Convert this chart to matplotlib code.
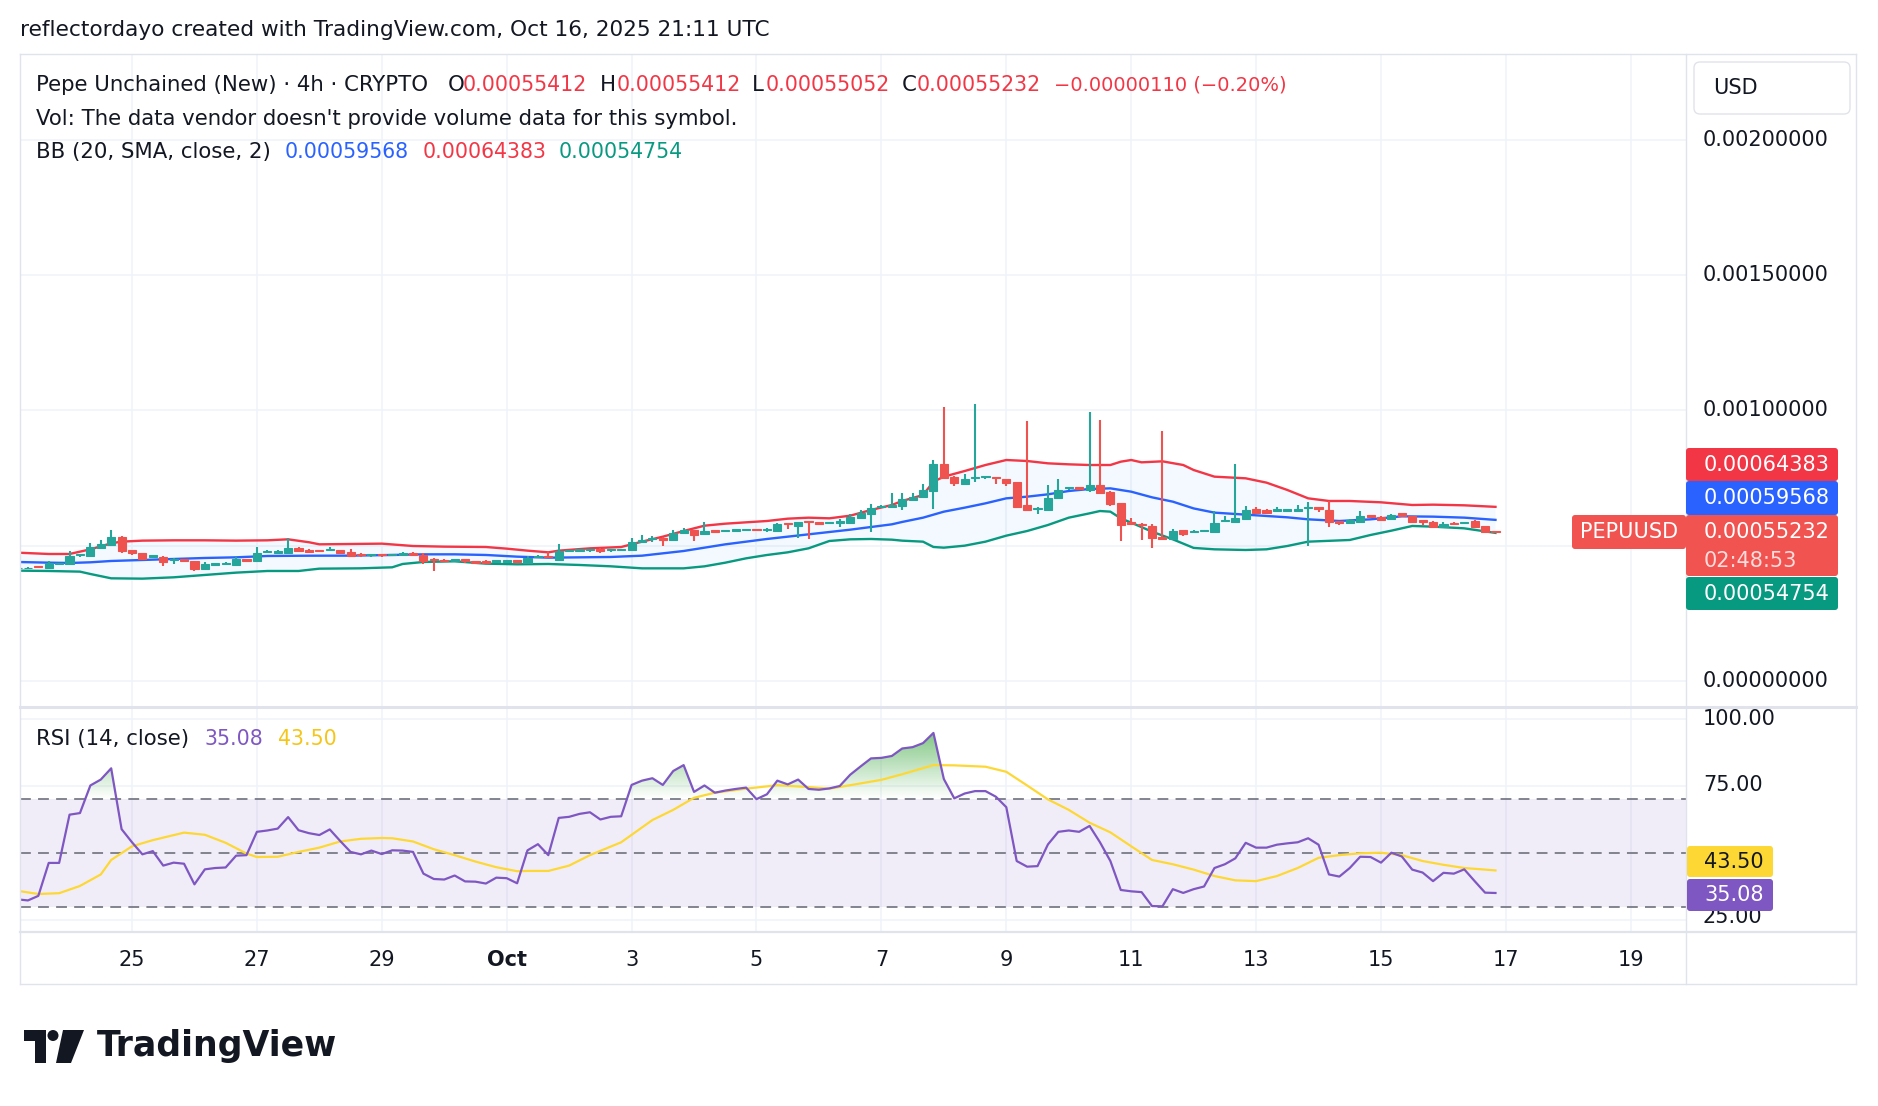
import numpy as np
import pandas as pd
import matplotlib
matplotlib.use("Agg")
import matplotlib.pyplot as plt
import matplotlib.dates as mdates
from matplotlib.patches import FancyBboxPatch, Polygon, Circle, PathPatch
from matplotlib.path import Path
from matplotlib.lines import Line2D
from matplotlib.transforms import IdentityTransform

# ---------------- DATA ----------------
# 4h candles, prices in micro-USD (x 1e-6)
PRICE_UNIT = 1e-6
start_time = "2025-09-23 04:00"
n_candles = 143

opens = [416.6, 417.5, 424.0, 416.6, 433.8, 431.4, 464.6, 463.4, 493.0, 504.1,
         533.6, 484.4, 473.3, 459.7, 459.7, 448.6, 451.1, 443.7, 415.3, 430.1,
         432.6, 430.1, 451.1, 444.9, 475.7, 474.5, 474.5, 493.0, 485.6, 483.1,
         483.1, 483.1, 477.0, 470.8, 464.6, 469.6, 465.9, 467.1, 472.0, 465.9,
         451.1, 448.6, 444.9, 451.1, 443.7, 444.9, 441.2, 441.2, 446.2, 437.5,
         457.2, 463.4, 448.6, 479.4, 481.9, 484.4, 489.3, 483.0, 484.3, 483.0,
         513.8, 523.7, 529.9, 520.0, 545.9, 558.2, 542.2, 558.2, 554.5, 554.5,
         557.0, 561.9, 557.0, 555.7, 584.1, 574.2, 591.5, 586.6, 582.9, 584.1,
         585.3, 601.4, 618.6, 643.2, 644.5, 647.0, 669.1, 679.0, 703.6, 802.2,
         755.4, 727.0, 749.2, 752.9, 754.1, 745.5, 734.4, 649.4, 634.6, 633.4,
         676.5, 712.2, 717.2, 707.3, 724.6, 699.9, 658.0, 589.0, 581.6, 574.2,
         532.3, 526.2, 558.2, 549.6, 553.3, 552.1, 591.5, 589.1, 600.2, 634.7,
         631.0, 627.3, 628.5, 629.8, 638.4, 643.3, 632.2, 590.3, 582.9, 589.1,
         612.5, 607.6, 597.7, 619.9, 610.0, 595.2, 589.1, 570.6, 585.4, 582.9,
         590.3, 571.8, 554.12]
highs = [419.5, 420.0, 425.0, 443.7, 438.0, 480.7, 471.0, 511.5, 521.3, 558.3,
         536.1, 486.0, 474.0, 466.0, 462.2, 454.8, 452.0, 445.0, 440.0, 437.0,
         441.2, 459.7, 452.0, 495.4, 484.4, 484.4, 529.9, 495.4, 488.1, 484.0,
         495.4, 484.0, 488.1, 474.5, 470.5, 470.5, 470.5, 475.7, 477.0, 472.0,
         456.0, 452.3, 452.0, 452.0, 444.5, 445.5, 447.0, 447.0, 447.0, 460.9,
         464.5, 475.7, 506.5, 485.5, 489.0, 489.0, 490.0, 487.5, 489.0, 527.4,
         539.7, 537.3, 531.0, 557.0, 566.8, 559.0, 587.8, 559.0, 560.0, 561.5,
         562.5, 562.5, 566.8, 585.3, 585.0, 588.5, 592.5, 587.5, 587.5, 597.7,
         616.1, 632.2, 654.3, 650.6, 693.8, 693.8, 693.8, 727.0, 817.0, 1012.9,
         756.5, 764.0, 1024.0, 759.0, 755.0, 746.5, 736.0, 961.2, 643.2, 724.6,
         746.8, 718.0, 718.0, 994.5, 964.9, 701.0, 659.0, 601.4, 582.5, 580.4,
         924.2, 561.9, 559.0, 557.0, 559.0, 628.5, 610.0, 802.3, 645.8, 643.3,
         635.9, 643.3, 637.0, 649.5, 661.8, 644.5, 664.3, 591.5, 598.9, 628.5,
         613.5, 608.5, 617.4, 621.0, 611.0, 596.5, 590.0, 587.9, 586.5, 589.0,
         594.0, 573.0, 554.12]
lows = [415.5, 416.0, 419.0, 415.0, 432.0, 430.0, 459.7, 462.0, 491.0, 503.0,
        474.5, 467.1, 448.6, 458.0, 426.4, 433.8, 441.2, 408.0, 414.0, 427.7,
        431.0, 429.0, 444.0, 443.0, 474.5, 470.8, 473.0, 478.2, 474.5, 478.0,
        482.0, 470.8, 462.0, 459.7, 457.2, 459.7, 465.0, 466.0, 462.2, 431.4,
        408.0, 440.0, 444.0, 436.3, 436.5, 435.1, 440.0, 440.0, 437.5, 436.5,
        453.5, 456.0, 447.0, 478.0, 479.4, 475.7, 474.5, 478.1, 483.0, 482.0,
        512.5, 515.1, 500.3, 518.5, 545.0, 518.8, 541.0, 551.0, 553.5, 549.6,
        556.0, 556.0, 552.0, 554.5, 563.2, 527.4, 524.9, 580.5, 582.0, 570.5,
        584.0, 600.0, 552.1, 642.0, 643.5, 633.4, 668.0, 678.0, 634.6, 749.2,
        722.1, 726.0, 736.9, 745.5, 729.5, 722.1, 640.8, 632.0, 616.1, 632.0,
        671.6, 706.1, 706.1, 699.9, 695.0, 646.9, 518.8, 580.4, 522.5, 492.9,
        525.0, 525.0, 537.3, 548.4, 549.7, 551.0, 586.6, 588.0, 599.0, 621.0,
        621.0, 626.0, 627.5, 628.5, 500.4, 626.1, 568.1, 578.0, 581.5, 588.0,
        604.0, 592.8, 596.5, 607.6, 582.9, 576.8, 569.5, 569.5, 578.0, 579.2,
        567.0, 548.5, 550.52]
closes = [418.5, 419.5, 420.3, 435.1, 436.3, 463.4, 469.6, 494.2, 506.5, 532.4,
          481.9, 472.0, 451.1, 464.6, 440.0, 452.3, 444.9, 415.3, 432.6, 436.3,
          437.5, 449.9, 444.9, 474.5, 481.9, 480.7, 493.0, 481.9, 478.2, 479.4,
          486.8, 474.5, 463.4, 464.6, 469.6, 464.6, 469.6, 472.0, 465.9, 443.7,
          446.2, 442.5, 451.1, 443.7, 437.5, 437.5, 446.2, 446.2, 440.0, 456.0,
          463.4, 457.2, 481.9, 484.4, 488.1, 488.1, 481.9, 486.7, 488.0, 515.1,
          522.5, 529.9, 522.5, 545.9, 558.2, 539.7, 554.5, 552.0, 559.4, 560.7,
          561.9, 557.0, 561.9, 581.6, 579.2, 587.8, 586.6, 581.6, 586.6, 590.3,
          605.0, 622.3, 639.5, 648.2, 650.6, 672.8, 681.4, 706.1, 802.2, 751.7,
          730.7, 745.5, 755.4, 757.8, 749.2, 730.7, 644.5, 633.4, 640.8, 676.5,
          707.3, 717.2, 709.8, 724.6, 696.2, 653.1, 577.9, 581.6, 576.7, 527.4,
          526.2, 553.3, 542.2, 554.5, 558.3, 582.9, 596.5, 603.9, 632.2, 622.4,
          622.4, 634.7, 635.9, 637.1, 643.3, 635.9, 586.6, 582.9, 595.2, 610.0,
          605.1, 595.2, 615.0, 611.3, 589.1, 589.1, 570.6, 580.5, 579.2, 587.9,
          568.1, 549.7, 552.32]

# Bollinger bands (at sample candles), micro-USD
bb_up_idx = [0, 3, 5, 7, 9, 10, 12, 15, 18, 21, 24, 26, 28, 29, 32, 35, 38, 41, 45, 47,
             49, 51, 52, 55, 58, 60, 62, 64, 66, 68, 70, 72, 74, 76, 78, 80, 82, 84, 85, 87,
             88, 89, 91, 93, 95, 97, 99, 101, 103, 105, 106, 107, 108, 110, 112, 113, 115, 118, 120, 122,
             124, 126, 128, 131, 134, 136, 139, 142]
bb_up = [474.5, 469.6, 469.6, 486.8, 509.0, 515.2, 518.9, 520.1, 520.1, 518.9, 520.1, 523.8, 513.0, 505.3, 506.5, 507.8, 499.1, 496.7, 495.4, 489.3,
         481.9, 475.7, 481.9, 490.5, 495.4, 515.1, 533.6, 554.5, 574.2, 581.6, 586.6, 591.5, 600.1, 603.8, 601.4, 611.2, 632.2, 650.6, 665.4, 687.6,
         736.9, 755.4, 776.3, 798.5, 817.0, 813.3, 804.7, 801.0, 798.5, 798.5, 810.8, 817.0, 808.4, 812.1, 798.5, 780.0, 755.4, 749.3, 733.3, 706.2,
         675.3, 665.5, 665.5, 660.6, 650.7, 651.9, 649.5, 643.83]
bb_mid_idx = [0, 3, 5, 7, 9, 12, 15, 18, 21, 24, 28, 32, 36, 39, 42, 45, 48, 51, 54, 57,
              60, 64, 68, 72, 76, 80, 84, 85, 87, 89, 91, 93, 95, 97, 99, 101, 103, 105, 107, 109,
              111, 113, 115, 118, 122, 124, 127, 130, 133, 136, 139, 142]
bb_mid = [440.0, 437.5, 436.3, 438.8, 443.7, 447.4, 451.1, 454.8, 457.2, 462.2, 463.2, 463.4, 465.9, 468.3, 468.3, 465.9, 459.7, 456.0, 457.2, 458.5,
          463.3, 480.6, 505.2, 525.0, 542.2, 559.4, 579.2, 588.0, 603.8, 626.0, 640.8, 656.8, 675.3, 681.4, 690.1, 702.4, 709.8, 712.2, 699.9, 679.0,
          663.0, 638.0, 622.4, 615.0, 605.1, 597.7, 591.5, 597.7, 608.8, 607.6, 603.9, 595.68]
bb_low_idx = [0, 3, 6, 7, 9, 12, 15, 18, 21, 24, 27, 28, 29, 33, 36, 37, 39, 42, 45, 48,
              51, 54, 57, 60, 64, 66, 68, 70, 72, 74, 76, 78, 80, 82, 84, 85, 87, 88, 89, 91,
              93, 95, 97, 99, 101, 103, 104, 105, 106, 107, 109, 111, 113, 115, 118, 120, 122, 124, 128, 130,
              132, 134, 136, 139, 142]
bb_low = [408.0, 406.7, 404.3, 395.6, 379.6, 378.4, 383.3, 392.0, 400.6, 406.7, 406.7, 411.0, 415.3, 416.6, 420.3, 432.6, 440.0, 442.5, 433.8, 431.4,
          432.6, 428.9, 424.0, 416.5, 416.5, 423.9, 437.4, 453.5, 465.8, 475.7, 490.5, 517.6, 523.7, 525.0, 522.5, 518.8, 515.1, 495.4, 492.9, 500.3,
          515.1, 537.3, 554.5, 576.7, 603.8, 619.8, 628.4, 626.0, 601.4, 585.3, 552.1, 523.7, 492.0, 486.8, 484.3, 486.8, 499.1, 515.1, 521.3, 539.8,
          555.8, 573.1, 570.6, 564.4, 547.54]

# RSI (14) per candle
rsi = [32.7, 32.3, 34.0, 46.3, 46.3, 64.3, 64.9, 75.2, 77.4, 81.6,
       58.9, 54.0, 49.5, 50.7, 45.3, 46.4, 46.0, 38.3, 43.9, 44.4,
       44.6, 49.0, 49.2, 57.9, 58.4, 59.1, 63.4, 58.5, 57.4, 56.7,
       58.8, 54.5, 50.4, 49.5, 50.9, 49.6, 51.0, 50.9, 50.4, 42.3,
       40.3, 40.1, 41.6, 39.4, 39.3, 38.6, 40.8, 40.6, 38.7, 51.0,
       53.3, 49.2, 63.1, 63.5, 64.6, 65.2, 62.5, 63.5, 63.7, 75.4,
       77.0, 77.9, 75.4, 80.6, 82.8, 72.8, 75.2, 72.5, 73.3, 73.9,
       74.4, 70.1, 71.9, 77.0, 75.6, 77.4, 73.9, 73.6, 74.1, 75.0,
       79.2, 82.3, 85.3, 85.5, 86.2, 89.0, 89.5, 91.0, 94.8, 77.6,
       70.4, 72.2, 73.1, 73.1, 71.0, 67.1, 47.0, 44.9, 45.1, 53.2,
       57.9, 58.4, 57.9, 60.1, 54.0, 47.0, 36.2, 35.7, 35.4, 30.2,
       30.1, 36.5, 35.1, 36.5, 37.5, 44.4, 45.8, 48.0, 53.8, 52.0,
       52.0, 53.1, 53.6, 54.0, 55.5, 53.1, 42.0, 41.2, 44.4, 48.6,
       48.5, 46.4, 50.1, 48.7, 43.8, 42.7, 39.5, 42.6, 42.3, 43.9,
       39.5, 35.2, 35.08]
# RSI-based MA (read at sample candles)
rsi_ma_idx = [0, 2, 4, 6, 8, 9, 11, 13, 16, 18, 20, 22, 23, 25, 27, 29, 31, 33, 35, 36,
              38, 40, 42, 44, 46, 48, 49, 51, 53, 55, 58, 61, 63, 65, 67, 70, 73, 76, 78, 80,
              83, 85, 88, 90, 93, 95, 97, 99, 101, 103, 105, 107, 109, 111, 113, 115, 117, 119, 121, 123,
              125, 127, 129, 131, 133, 135, 137, 139, 142]
rsi_ma = [35.9, 34.7, 35.0, 37.7, 42.0, 47.4, 52.5, 54.8, 57.6, 56.8, 53.8, 49.8, 48.5, 48.6, 50.4, 52.0, 54.3, 55.3, 55.6, 55.5,
          54.3, 51.4, 49.2, 46.8, 44.7, 43.2, 43.3, 43.3, 45.3, 49.2, 54.0, 62.3, 66.1, 70.6, 72.5, 74.0, 75.3, 74.6, 74.0, 75.3,
          77.3, 79.4, 82.8, 82.7, 82.2, 80.3, 75.2, 70.0, 66.1, 61.3, 57.7, 52.5, 47.4, 45.8, 43.8, 41.4, 39.8, 39.5, 41.4, 44.4,
          48.2, 49.2, 49.9, 50.1, 49.2, 47.0, 45.6, 44.4, 43.5]

tick_dates = ["2025-09-25", "2025-09-27", "2025-09-29", "2025-10-01", "2025-10-03", "2025-10-05",
              "2025-10-07", "2025-10-09", "2025-10-11", "2025-10-13", "2025-10-15", "2025-10-17",
              "2025-10-19"]
tick_labels = ["25", "27", "29", "Oct", "3", "5", "7", "9", "11", "13", "15", "17", "19"]
price_ticks = [0.0, 0.0005, 0.0010, 0.0015, 0.0020]
price_tick_labels = ["0.00000000", "", "0.00100000", "0.00150000", "0.00200000"]
rsi_ticks = [25, 75, 100]
rsi_tick_labels = ["25.00", "75.00", "100.00"]
countdown = "02:48:53"
change_text = "\u22120.00000110 (\u22120.20%)"

# ---------------- COLORS ----------------
UP = "#26A69A"
DOWN = "#EF5350"
BB_UP_C = "#F23645"
BB_MID_C = "#2962FF"
BB_LOW_C = "#089981"
RSI_C = "#7E57C2"
MA_C = "#FDD835"
GRID = "#F0F3FA"
BORDER = "#E0E3EB"
TXT = "#131722"

FS_LEG = 15.3    # words in legends
FS_NUM = 14.8    # numbers in legends
FS_AX = 15.0     # axis labels / tags

# ---------------- FIGURE ----------------
W, H = 1878, 1106
fig = plt.figure(figsize=(W / 100, H / 100), dpi=100)
fig.patch.set_facecolor("white")
plt.rcParams['font.family'] = ['DejaVu Sans']


def axrect(x0, y0, x1, y1):
    return [x0 / W, 1 - y1 / H, (x1 - x0) / W, (y1 - y0) / H]


ax_p = fig.add_axes(axrect(20, 54, 1686, 707))
ax_r = fig.add_axes(axrect(20, 707, 1686, 932), sharex=ax_p)
ax_ps = fig.add_axes(axrect(1686, 54, 1856, 707), sharey=ax_p)
ax_rs = fig.add_axes(axrect(1686, 707, 1856, 929), sharey=ax_r)

t = pd.date_range(start_time, periods=n_candles, freq="4h")
x = mdates.date2num(t)
O = np.array(opens) * PRICE_UNIT
Hh = np.array(highs) * PRICE_UNIT
L = np.array(lows) * PRICE_UNIT
C = np.array(closes) * PRICE_UNIT
R = np.array(rsi)

x_ref = mdates.date2num(pd.Timestamp("2025-09-25"))
xlim = (x_ref - 1.7934, x_ref + 24.884)

# ---- price pane ----
for ax in (ax_p, ax_r):
    ax.set_facecolor("white")
    for s in ax.spines.values():
        s.set_visible(False)
    ax.tick_params(length=0, labelleft=False, labelright=False)

ax_p.set_yticks(price_ticks)
ax_p.grid(True, color=GRID, lw=1.2, zorder=0)
ax_p.set_axisbelow(True)
ax_p.tick_params(labelbottom=False)

ux = x[np.array(bb_up_idx)]
lx = x[np.array(bb_low_idx)]
mx = x[np.array(bb_mid_idx)]
up = np.array(bb_up) * PRICE_UNIT
lo = np.array(bb_low) * PRICE_UNIT
md = np.array(bb_mid) * PRICE_UNIT
ax_p.fill(np.concatenate([ux, lx[::-1]]), np.concatenate([up, lo[::-1]]),
          color="#2196F3", alpha=0.05, lw=0, zorder=1)
ax_p.plot(ux, up, color=BB_UP_C, lw=1.7, zorder=2)
ax_p.plot(mx, md, color=BB_MID_C, lw=1.7, zorder=2)
ax_p.plot(lx, lo, color=BB_LOW_C, lw=1.7, zorder=2)

cols = np.where(C >= O, UP, DOWN)
ax_p.vlines(x, L, Hh, colors=cols, lw=1.5, zorder=3)
ax_p.bar(x, np.abs(C - O), bottom=np.minimum(O, C), width=0.78 / 6,
         color=cols, edgecolor=cols, linewidth=0.8, zorder=4)

ax_p.set_xlim(*xlim)
ax_p.set_ylim(-0.0000961, 0.0023179)

# ---- RSI pane ----
ax_r.set_yticks(rsi_ticks)
ax_r.set_xticks(mdates.date2num(pd.to_datetime(tick_dates)))
ax_r.set_xticklabels(tick_labels, fontsize=FS_AX, color=TXT)
for lab in ax_r.get_xticklabels():
    if lab.get_text() == "Oct":
        lab.set_fontweight("bold")
ax_r.tick_params(axis="x", pad=13, length=0)
ax_r.grid(True, color=GRID, lw=1.2, zorder=0)
ax_r.set_axisbelow(True)

ax_r.axhspan(30, 70, color=RSI_C, alpha=0.1, lw=0, zorder=1)


# gradient fill above 70 / below 30
def grad_fill(ax, xv, yv, level, top, cond, rgb, amax):
    coll = ax.fill_between(xv, level, yv, where=cond, interpolate=True,
                           facecolor="none", edgecolor="none", lw=0)
    paths = coll.get_paths()
    if not paths:
        return
    comp = Path.make_compound_path(*paths)
    patch = PathPatch(comp, transform=ax.transData, fc="none", ec="none")
    ax.add_patch(patch)
    g = np.zeros((256, 1, 4))
    g[..., 0], g[..., 1], g[..., 2] = rgb
    g[..., 3] = np.linspace(0, amax, 256)[:, None]
    lo_, hi_ = (level, top) if top > level else (top, level)
    if top < level:
        g = g[::-1]
    im = ax.imshow(g, extent=[xv[0], xv[-1], lo_, hi_], origin="lower",
                   aspect="auto", zorder=1.5, interpolation="bilinear")
    im.set_clip_path(patch)


grad_fill(ax_r, x, R, 70, 100, R >= 70, (0.30, 0.69, 0.31), 0.85)
grad_fill(ax_r, x, R, 30, 0, R <= 30, (0.94, 0.33, 0.31), 0.85)

for lv in (70, 50, 30):
    ax_r.axhline(lv, color="#787B86", lw=1.3, ls=(0, (6, 4)), zorder=2)

ax_r.plot(x[np.array(rsi_ma_idx)], rsi_ma, color=MA_C, lw=1.6, zorder=3)
ax_r.plot(x, R, color=RSI_C, lw=1.6, zorder=4)
ax_r.set_xlim(*xlim)
ax_r.set_ylim(20.52, 104.48)

# ---- right scales ----
for ax in (ax_ps, ax_rs):
    ax.set_axis_off()
for v, s in zip(price_ticks, price_tick_labels):
    if s:
        ax_ps.text(0.1, v, s, transform=ax_ps.get_yaxis_transform(), fontsize=FS_AX,
                   color=TXT, va="center", ha="left", clip_on=True)
for v, s in zip(rsi_ticks, rsi_tick_labels):
    ax_rs.text(0.1, v, s, transform=ax_rs.get_yaxis_transform(), fontsize=FS_AX,
               color=TXT, va="center", ha="left", clip_on=True)

# ---------------- helpers in pixel coords ----------------
ID = IdentityTransform()


def box(x0, y0, x1, y1, fc, r=3, ec="none", lw=0):
    p = FancyBboxPatch((x0, H - y1), x1 - x0, y1 - y0,
                       boxstyle=f"round,pad=0,rounding_size={r}",
                       transform=ID, fc=fc, ec=ec, lw=lw, zorder=20)
    fig.add_artist(p)


def ptext(xp, yp, s, **kw):
    kw.setdefault("fontsize", FS_LEG)
    kw.setdefault("color", TXT)
    kw.setdefault("va", "center")
    kw.setdefault("ha", "left")
    fig.text(xp, H - yp, s, transform=ID, zorder=25, **kw)


def hline(y, x0, x1, lw=1.0, c=BORDER):
    fig.add_artist(Line2D([x0, x1], [H - y, H - y], transform=ID, color=c, lw=lw, zorder=15))


def vline(xp, y0, y1, lw=1.0, c=BORDER):
    fig.add_artist(Line2D([xp, xp], [H - y0, H - y1], transform=ID, color=c, lw=lw, zorder=15))


# frame
hline(54, 20, 1856)
hline(984, 20, 1856)
vline(20, 54, 984)
vline(1856, 54, 984)
vline(1686, 54, 984)
hline(707, 20, 1856, lw=2.2)
hline(932, 20, 1856, lw=1.6)

# header
ptext(20, 30, "reflectordayo created with TradingView.com, Oct 16, 2025 21:11 UTC", fontsize=15.6)

# legend lines
RED_T = "#F23645"
ptext(36, 85, "Pepe Unchained (New) \u00b7 4h \u00b7 CRYPTO")
ptext(448, 85, "O")
ptext(463, 85, f"{opens[-1] * PRICE_UNIT:.8f}", color=RED_T, fontsize=FS_NUM)
ptext(600, 85, "H")
ptext(617, 85, f"{highs[-1] * PRICE_UNIT:.8f}", color=RED_T, fontsize=FS_NUM)
ptext(752, 85, "L")
ptext(766, 85, f"{lows[-1] * PRICE_UNIT:.8f}", color=RED_T, fontsize=FS_NUM)
ptext(902, 85, "C")
ptext(917, 85, f"{closes[-1] * PRICE_UNIT:.8f}", color=RED_T, fontsize=FS_NUM)
ptext(1054, 85, change_text, color=RED_T, fontsize=14.0)
ptext(36, 119, "Vol: The data vendor doesn't provide volume data for this symbol.")
ptext(36, 152, "BB (20, SMA, close, 2)")
ptext(285, 152, f"{bb_mid[-1] * PRICE_UNIT:.8f}", color=BB_MID_C, fontsize=FS_NUM)
ptext(423, 152, f"{bb_up[-1] * PRICE_UNIT:.8f}", color=BB_UP_C, fontsize=FS_NUM)
ptext(559, 152, f"{bb_low[-1] * PRICE_UNIT:.8f}", color=BB_LOW_C, fontsize=FS_NUM)
ptext(36, 739, "RSI (14, close)")
ptext(204, 739, f"{rsi[-1]:.2f}", color=RSI_C, fontsize=FS_NUM)
ptext(278, 739, f"{rsi_ma[-1]:.2f}", color="#F5C518", fontsize=FS_NUM)

# USD box
box(1694, 62, 1850, 114, "white", r=6, ec=BORDER, lw=1)
ptext(1713, 88, "USD", fontsize=FS_AX)

# price tags
box(1686, 448, 1838, 481, BB_UP_C)
ptext(1704, 465, f"{bb_up[-1] * PRICE_UNIT:.8f}", color="white", fontsize=FS_AX)
box(1686, 481, 1838, 515, BB_MID_C)
ptext(1704, 498, f"{bb_mid[-1] * PRICE_UNIT:.8f}", color="white", fontsize=FS_AX)
box(1686, 515, 1838, 576, "#F05350")
ptext(1704, 532, f"{closes[-1] * PRICE_UNIT:.8f}", color="white", fontsize=FS_AX)
ptext(1704, 561, countdown, color="#FFDCDC", fontsize=FS_AX)
box(1686, 577, 1838, 610, BB_LOW_C)
ptext(1704, 594, f"{bb_low[-1] * PRICE_UNIT:.8f}", color="white", fontsize=FS_AX)
box(1572, 515, 1686, 549, "#F05350")
ptext(1629, 532, "PEPUUSD", color="white", ha="center", fontsize=FS_AX)

# RSI tags
box(1687, 846, 1773, 877, "#FDD835")
ptext(1704, 862, f"{rsi_ma[-1]:.2f}", color=TXT, fontsize=FS_AX)
box(1687, 879, 1773, 911, RSI_C)
ptext(1704, 895, f"{rsi[-1]:.2f}", color="white", fontsize=FS_AX)


# TradingView logo
def pxy(px, py):
    return (px, H - py)


fig.add_artist(Polygon([pxy(24, 1030), pxy(46, 1030), pxy(46, 1063), pxy(35, 1063),
                        pxy(35, 1041), pxy(24, 1041)], closed=True, transform=ID,
                       fc=TXT, ec="none", zorder=20))
fig.add_artist(Circle(pxy(53, 1035.5), 5.5, transform=ID, fc=TXT, ec="none", zorder=20))
fig.add_artist(Polygon([pxy(63, 1030), pxy(84, 1030), pxy(71, 1063), pxy(56, 1063)],
                       closed=True, transform=ID, fc=TXT, ec="none", zorder=20))
ptext(97, 1046, "TradingView", fontsize=25, fontweight="bold")

fig.savefig("out.png", dpi=100)
